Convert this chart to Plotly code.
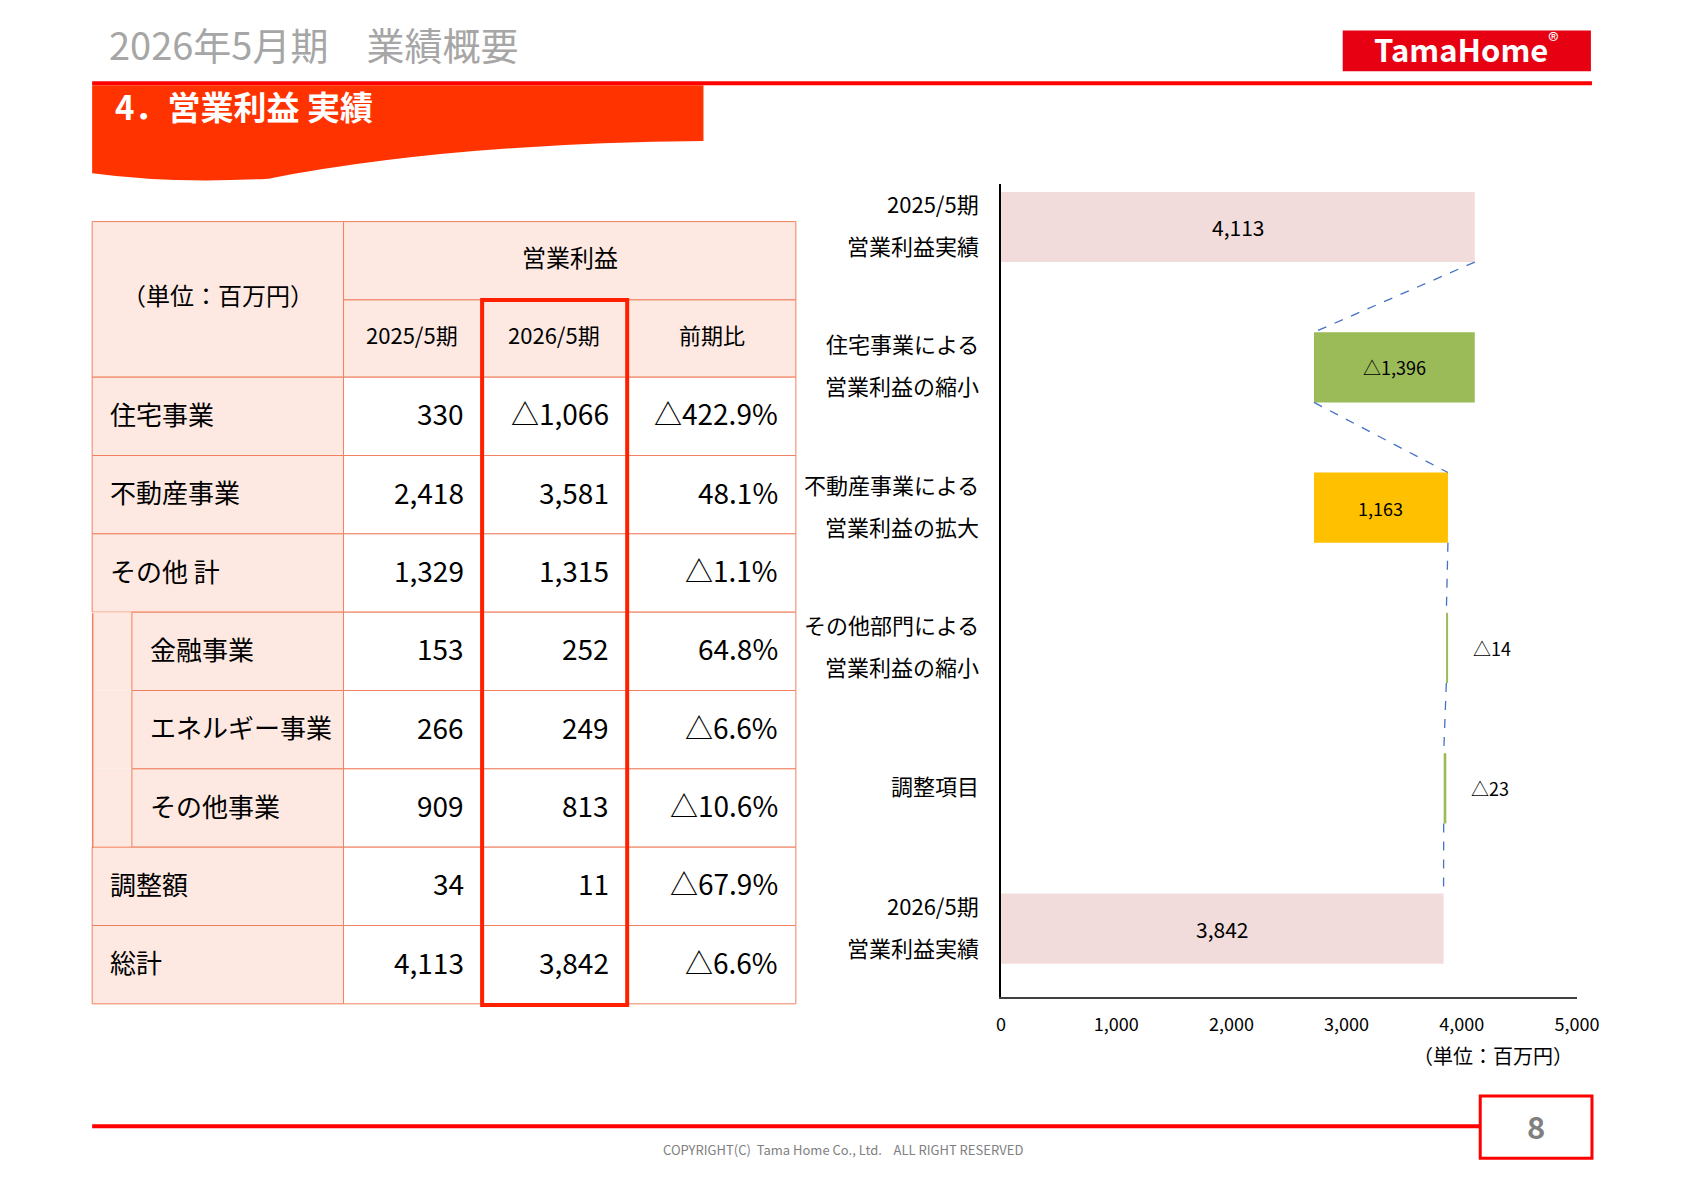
import plotly.graph_objects as go

# reference pixel grid (as viewed) -> page fractions (empirically calibrated)
S = 1684 / 1560
FW, FH = 1668, 1174
def px(x):
    x = (x - 5) / 0.9885
    return (x * S - 8) / FW
def py(y):
    y = (y + 1.5) / 1.006
    return 1 - (y * S - 8) / FH

FONT = "Noto Sans CJK JP"

# ---- data ----
row_labels = ["住宅事業", "不動産事業", "その他 計", "金融事業", "エネルギー事業", "その他事業", "調整額", "総計"]
col_2025 = ["330", "2,418", "1,329", "153", "266", "909", "34", "4,113"]
col_2026 = ["△1,066", "3,581", "1,315", "252", "249", "813", "11", "3,842"]
col_ratio = ["△422.9%", "48.1%", "△1.1%", "64.8%", "△6.6%", "△10.6%", "△67.9%", "△6.6%"]

wf_labels = [["2025/5期", "営業利益実績"], ["住宅事業による", "営業利益の縮小"], ["不動産事業による", "営業利益の拡大"],
             ["その他部門による", "営業利益の縮小"], ["調整項目"], ["2026/5期", "営業利益実績"]]
wf_start = 4113
wf_deltas = [-1396, 1163, -14, -23]
wf_end = 3842
wf_texts = ["4,113", "△1,396", "1,163", "△14", "△23", "3,842"]
x_ticks = [0, 1000, 2000, 3000, 4000, 5000]

# ---- waterfall geometry from data ----
cum = [wf_start]
for d in wf_deltas:
    cum.append(cum[-1] + d)
bases, lens, colors = [0], [wf_start], ["#F2DCDB"]
for i, d in enumerate(wf_deltas):
    lo = min(cum[i], cum[i + 1])
    bases.append(lo); lens.append(abs(d))
    colors.append("#FFC000" if d > 0 else "#9BBB59")
bases.append(0); lens.append(wf_end); colors.append("#F2DCDB")
cum_pts = cum + [wf_end]
ys = list(range(6))
BW = 0.5

fig = go.Figure()
fig.add_trace(go.Bar(y=ys, x=lens, base=bases, orientation="h", width=BW,
                     marker=dict(color=colors, line=dict(width=0)), hoverinfo="skip"))
for i in range(5):
    fig.add_trace(go.Scatter(x=[cum_pts[i], cum_pts[i + 1]], y=[i + BW / 2, i + 1 - BW / 2],
                             mode="lines", line=dict(color="#4472C4", width=1.3, dash="dash"),
                             hoverinfo="skip"))

ann = []
for i in range(6):
    if lens[i] > 300:
        xc = bases[i] + lens[i] / 2
        ann.append(dict(x=xc, y=i, xref="x", yref="y", text=wf_texts[i], showarrow=False,
                        font=dict(family=FONT, size=21 if i in (0, 5) else 18, color="black")))
    else:
        ann.append(dict(x=bases[i] + lens[i] + 200, y=i, xref="x", yref="y", text=wf_texts[i],
                        showarrow=False, xanchor="left", font=dict(family=FONT, size=18, color="black")))
    lines = wf_labels[i]
    offs = [0] if len(lines) == 1 else [-0.15, 0.15]
    for s, o in zip(lines, offs):
        ann.append(dict(x=px(913), y=i + o, xref="paper", yref="y", text=s, showarrow=False, yshift=3,
                        xanchor="right", font=dict(family=FONT, size=22, color="black")))

fig.update_layout(
    width=FW, height=FH, margin=dict(l=0, r=0, t=0, b=0),
    paper_bgcolor="white", plot_bgcolor="white", showlegend=False,
    xaxis=dict(domain=[px(932), px(1468)], range=[0, 5000], tickvals=x_ticks,
               ticktext=[f"{v:,}" for v in x_ticks], showgrid=False, zeroline=False,
               showline=True, linecolor="#404040", linewidth=1.5, ticks="", ticklabelstandoff=10,
               tickfont=dict(family=FONT, size=18, color="black")),
    yaxis=dict(domain=[py(928), py(170)], range=[5.49, -0.306], showticklabels=False,
               showgrid=False, zeroline=False, showline=True, linecolor="black", linewidth=1.5,
               ticks=""),
    font=dict(family=FONT),
)

shapes = []
shapes.append(dict(type="line", xref="paper", yref="paper", x0=px(86), x1=px(1482), y0=py(76), y1=py(76),
                   line=dict(color="#FF0000", width=4)))
shapes.append(dict(type="path", xref="paper", yref="paper",
                   path=f"M {px(86)},{py(78)} L {px(655)},{py(78)} L {px(655)},{py(130)} "
                        f"Q {px(420)},{py(132)} {px(250)},{py(165)} Q {px(160)},{py(170)} {px(86)},{py(160)} Z",
                   fillcolor="#FF3300", line=dict(width=0)))
shapes.append(dict(type="rect", xref="paper", yref="paper", x0=px(1250), x1=px(1481), y0=py(65), y1=py(27),
                   fillcolor="#E60012", line=dict(width=0)))
shapes.append(dict(type="line", xref="paper", yref="paper", x0=px(86), x1=px(1380), y0=py(1048), y1=py(1048),
                   line=dict(color="#FF0000", width=4)))
shapes.append(dict(type="rect", xref="paper", yref="paper", x0=px(1378), x1=px(1482), y0=py(1078), y1=py(1020),
                   fillcolor="white", line=dict(color="#FF0000", width=3)))

cx = [86, 320, 448, 585, 741]
ry = [350 + 73 * i for i in range(9)]
bc = "#F08060"
fill = "#FDE9E1"
def rect(x0, y0, x1, y1, fc, lw=1, lc=bc):
    shapes.append(dict(type="rect", xref="paper", yref="paper", x0=px(x0), x1=px(x1), y0=py(y1), y1=py(y0),
                       fillcolor=fc, line=dict(color=lc, width=lw) if lw else dict(width=0), layer="below"))
rect(86, 205, 320, 350, fill)
rect(320, 205, 741, 278, fill)
for j in range(3):
    rect(cx[j + 1], 278, cx[j + 2], 350, fill)
for i in range(8):
    y0, y1 = ry[i], ry[i + 1]
    if i in (3, 4, 5):
        rect(86, y0, 123, y1, fill, 0)
        rect(123, y0, 320, y1, fill)
    else:
        rect(86, y0, 320, y1, fill)
    for j in range(3):
        rect(cx[j + 1], y0, cx[j + 2], y1, "white")
shapes.append(dict(type="line", xref="paper", yref="paper", x0=px(86.5), x1=px(86.5), y0=py(570), y1=py(789),
                   line=dict(color=bc, width=1.5)))
shapes.append(dict(type="rect", xref="paper", yref="paper", x0=px(449), x1=px(584), y0=py(935), y1=py(278),
                   line=dict(color="#FF2000", width=4), fillcolor="rgba(0,0,0,0)"))

def t(x, y, s, size, color="black", xa="center", bold=False):
    ann.append(dict(x=px(x), y=py(y), xref="paper", yref="paper", text=f"<b>{s}</b>" if bold else s,
                    showarrow=False, xanchor=xa, yanchor="middle", yshift=3,
                    font=dict(family=FONT, size=size, color=color)))

t(100, 42, "2026年5月期　業績概要", 38, "#A6A6A6", "left")
t(1365, 46, "<b>TamaHome</b><sup>®</sup>", 31, "white")
t(105, 100, "4．営業利益 実績", 33, "white", "left", True)
t(203, 276, "（単位：百万円）", 24)
t(531, 240, "営業利益", 24)
t(384, 313, "2025/5期", 22)
t(516, 313, "2026/5期", 22)
t(663, 313, "前期比", 22)
for i in range(8):
    yc = (ry[i] + ry[i + 1]) / 2
    t(138 if i in (3, 4, 5) else 101, yc, row_labels[i], 26, xa="left")
    t(434, yc, col_2025[i], 28, xa="right")
    t(569, yc, col_2026[i], 28, xa="right")
    t(726, yc, col_ratio[i], 28, xa="right")
t(1390, 985, "（単位：百万円）", 20)
t(1430, 1050, "8", 31, "#808080", bold=True)
t(785, 1073, "COPYRIGHT(C)  Tama Home Co., Ltd.    ALL RIGHT RESERVED", 13, "#808080")

fig.update_layout(shapes=shapes, annotations=ann)
fig.write_html("out.html")
